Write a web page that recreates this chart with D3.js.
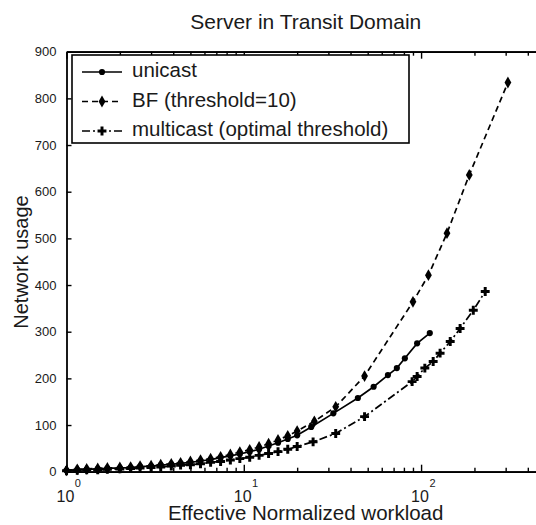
<!DOCTYPE html>
<html>
<head>
<meta charset="utf-8">
<script src="https://cdnjs.cloudflare.com/ajax/libs/d3/7.8.5/d3.min.js"></script>
<style>
  body { margin: 0; background: #fff; }
  svg { display: block; }
  text { font-family: 'Liberation Sans', Arial, Helvetica, sans-serif; fill: #1a1a1a; }
</style>
</head>
<body>
<svg id="chart" width="536" height="525"></svg>
<script>
// Data
//
// unicast
var uniX = [1, 1.15, 1.3, 1.5, 1.7, 2, 2.3, 2.6, 3, 3.4, 3.9, 4.4, 5, 5.7, 6.5, 7.4, 8.4, 9.5, 10.8, 12.2, 13.8, 15.6, 17.7, 20, 24, 32, 44, 54, 65, 73, 81, 95, 112]
var uniY = [3, 4, 5, 6, 7, 8, 9, 11, 12, 14, 16, 18, 20, 23, 26, 30, 34, 38, 43, 48, 55, 62, 70, 78, 96, 125, 158, 182, 207, 222, 243, 275, 297]
// BF (threshold=10)
var bfX = [1, 1.15, 1.3, 1.5, 1.7, 2, 2.3, 2.6, 3, 3.4, 3.9, 4.4, 5, 5.7, 6.5, 7.4, 8.4, 9.5, 10.8, 12.2, 13.8, 15.6, 17.7, 20, 25, 33, 48, 90, 110, 140, 187, 309]
var bfY = [3, 5, 6, 7, 8, 9, 10, 12, 13, 15, 17, 19, 22, 25, 28, 32, 37, 42, 47, 53, 60, 68, 77, 87, 108, 139, 205, 364, 421, 511, 636, 834]
// multicast (optimal threshold)
var mcX = [1, 1.15, 1.3, 1.5, 1.7, 2, 2.3, 2.6, 3, 3.4, 3.9, 4.4, 5, 5.7, 6.5, 7.4, 8.4, 9.5, 10.8, 12.2, 13.8, 15.6, 17.7, 20, 24.6, 33, 48, 89, 95, 105, 117, 128, 146, 166, 197, 230]
var mcY = [2, 3, 4, 4, 5, 6, 7, 8, 9, 10, 12, 14, 15, 17, 20, 22, 25, 28, 31, 35, 39, 43, 48, 54, 64, 82, 118, 193, 204, 222, 236, 254, 279, 307, 346, 386]

var legendLabels = ['unicast', 'BF (threshold=10)', 'multicast (optimal threshold)']
var xMajor = [1, 10, 100]
var xExponents = ['0', '1', '2']
var xMinor = [2, 3, 4, 5, 6, 7, 8, 9, 20, 30, 40, 50, 60, 70, 80, 90, 200, 300, 400]
var yTicks = [0, 100, 200, 300, 400, 500, 600, 700, 800, 900]

// Layout (plot box, right edge falls just outside the picture)
var plotL = 66.5, plotR = 545, plotT = 51.7, plotB = 471.7

var svg = d3.select('#chart')
var x = d3.scaleLog().domain([1, 500]).range([plotL, plotR])
var y = d3.scaleLinear().domain([0, 900]).range([plotB, plotT])

function zip(xs, ys) {
  return xs.map(function(v, i) { return [v, ys[i]] })
}

var series = [
  { pts: zip(uniX, uniY), dash: null, sym: 'circle' },
  { pts: zip(bfX, bfY), dash: '6,4', sym: 'diamond' },
  { pts: zip(mcX, mcY), dash: '8,3,2,3', sym: 'cross' }
]

// Title
svg.append('text')
  .attr('x', (plotL + plotR) / 2).attr('y', 29)
  .attr('text-anchor', 'middle')
  .style('font-size', '21px')
  .text('Server in Transit Domain')

// Axes
function styleAxis(g) {
  g.selectAll('path.domain').attr('stroke', '#000').attr('stroke-width', 1.8)
  g.selectAll('.tick line').attr('stroke', '#000').attr('stroke-width', 1.4)
}

svg.append('g').attr('transform', 'translate(0,' + plotB + ')')
  .call(d3.axisBottom(x).tickValues(xMajor).tickFormat('').tickSizeInner(-7).tickSizeOuter(0))
  .call(styleAxis)
svg.append('g').attr('transform', 'translate(0,' + plotB + ')')
  .call(d3.axisBottom(x).tickValues(xMinor).tickFormat('').tickSizeInner(-4).tickSizeOuter(0))
  .call(styleAxis)
svg.append('g').attr('transform', 'translate(0,' + plotT + ')')
  .call(d3.axisTop(x).tickValues(xMajor).tickFormat('').tickSizeInner(-7).tickSizeOuter(0))
  .call(styleAxis)
svg.append('g').attr('transform', 'translate(0,' + plotT + ')')
  .call(d3.axisTop(x).tickValues(xMinor).tickFormat('').tickSizeInner(-4).tickSizeOuter(0))
  .call(styleAxis)

var yAxis = svg.append('g').attr('transform', 'translate(' + plotL + ',0)')
  .call(d3.axisLeft(y).tickValues(yTicks).tickSizeInner(-5).tickSizeOuter(0).tickPadding(10))
  .call(styleAxis)
yAxis.selectAll('.tick text').style('font-size', '13px').attr('fill', '#1a1a1a')
svg.append('g').attr('transform', 'translate(' + plotR + ',0)')
  .call(d3.axisRight(y).tickValues(yTicks).tickFormat('').tickSizeInner(-5).tickSizeOuter(0))
  .call(styleAxis)

// x tick labels 10^n
xMajor.forEach(function(v, i) {
  var t = svg.append('text')
    .attr('x', x(v) - 10).attr('y', 502)
    .style('font-size', '16px')
    .text('10')
  t.append('tspan')
    .attr('dy', -15).attr('dx', 0.5)
    .style('font-size', '11px')
    .text(xExponents[i])
})

svg.append('text')
  .attr('x', (plotL + plotR) / 2).attr('y', 520)
  .attr('text-anchor', 'middle')
  .style('font-size', '20.5px')
  .text('Effective Normalized workload')

svg.append('text')
  .attr('transform', 'translate(28,262) rotate(-90)')
  .attr('text-anchor', 'middle')
  .style('font-size', '20px')
  .text('Network usage')

// Lines and markers
var line = d3.line()
  .x(function(d) { return x(d[0]) })
  .y(function(d) { return y(d[1]) })

var symbols = {
  circle: d3.symbol().type(d3.symbolCircle).size(30),
  diamond: d3.symbol().type(d3.symbolDiamond).size(40),
  cross: d3.symbol().type(d3.symbolCross).size(44)
}

series.forEach(function(s) {
  svg.append('path')
    .datum(s.pts)
    .attr('d', line)
    .attr('fill', 'none')
    .attr('stroke', '#000')
    .attr('stroke-width', 1.7)
    .attr('stroke-dasharray', s.dash)
  svg.append('g').selectAll('path')
    .data(s.pts)
    .join('path')
    .attr('transform', function(d) { return 'translate(' + x(d[0]) + ',' + y(d[1]) + ')' })
    .attr('d', symbols[s.sym])
    .attr('fill', '#000')
})

// Legend
var legend = svg.append('g')
legend.append('rect')
  .attr('x', 72).attr('y', 55).attr('width', 337).attr('height', 88)
  .attr('fill', '#fff').attr('stroke', '#000').attr('stroke-width', 1.6)

series.forEach(function(s, i) {
  var ly = 72 + i * 29.5
  legend.append('line')
    .attr('x1', 82).attr('x2', 122).attr('y1', ly).attr('y2', ly)
    .attr('stroke', '#000').attr('stroke-width', 1.7)
    .attr('stroke-dasharray', s.dash)
  legend.append('path')
    .attr('transform', 'translate(102,' + ly + ')')
    .attr('d', symbols[s.sym])
    .attr('fill', '#000')
  legend.append('text')
    .attr('x', 132).attr('y', ly + 5)
    .style('font-size', '20.5px')
    .text(legendLabels[i])
})
</script>
</body>
</html>
